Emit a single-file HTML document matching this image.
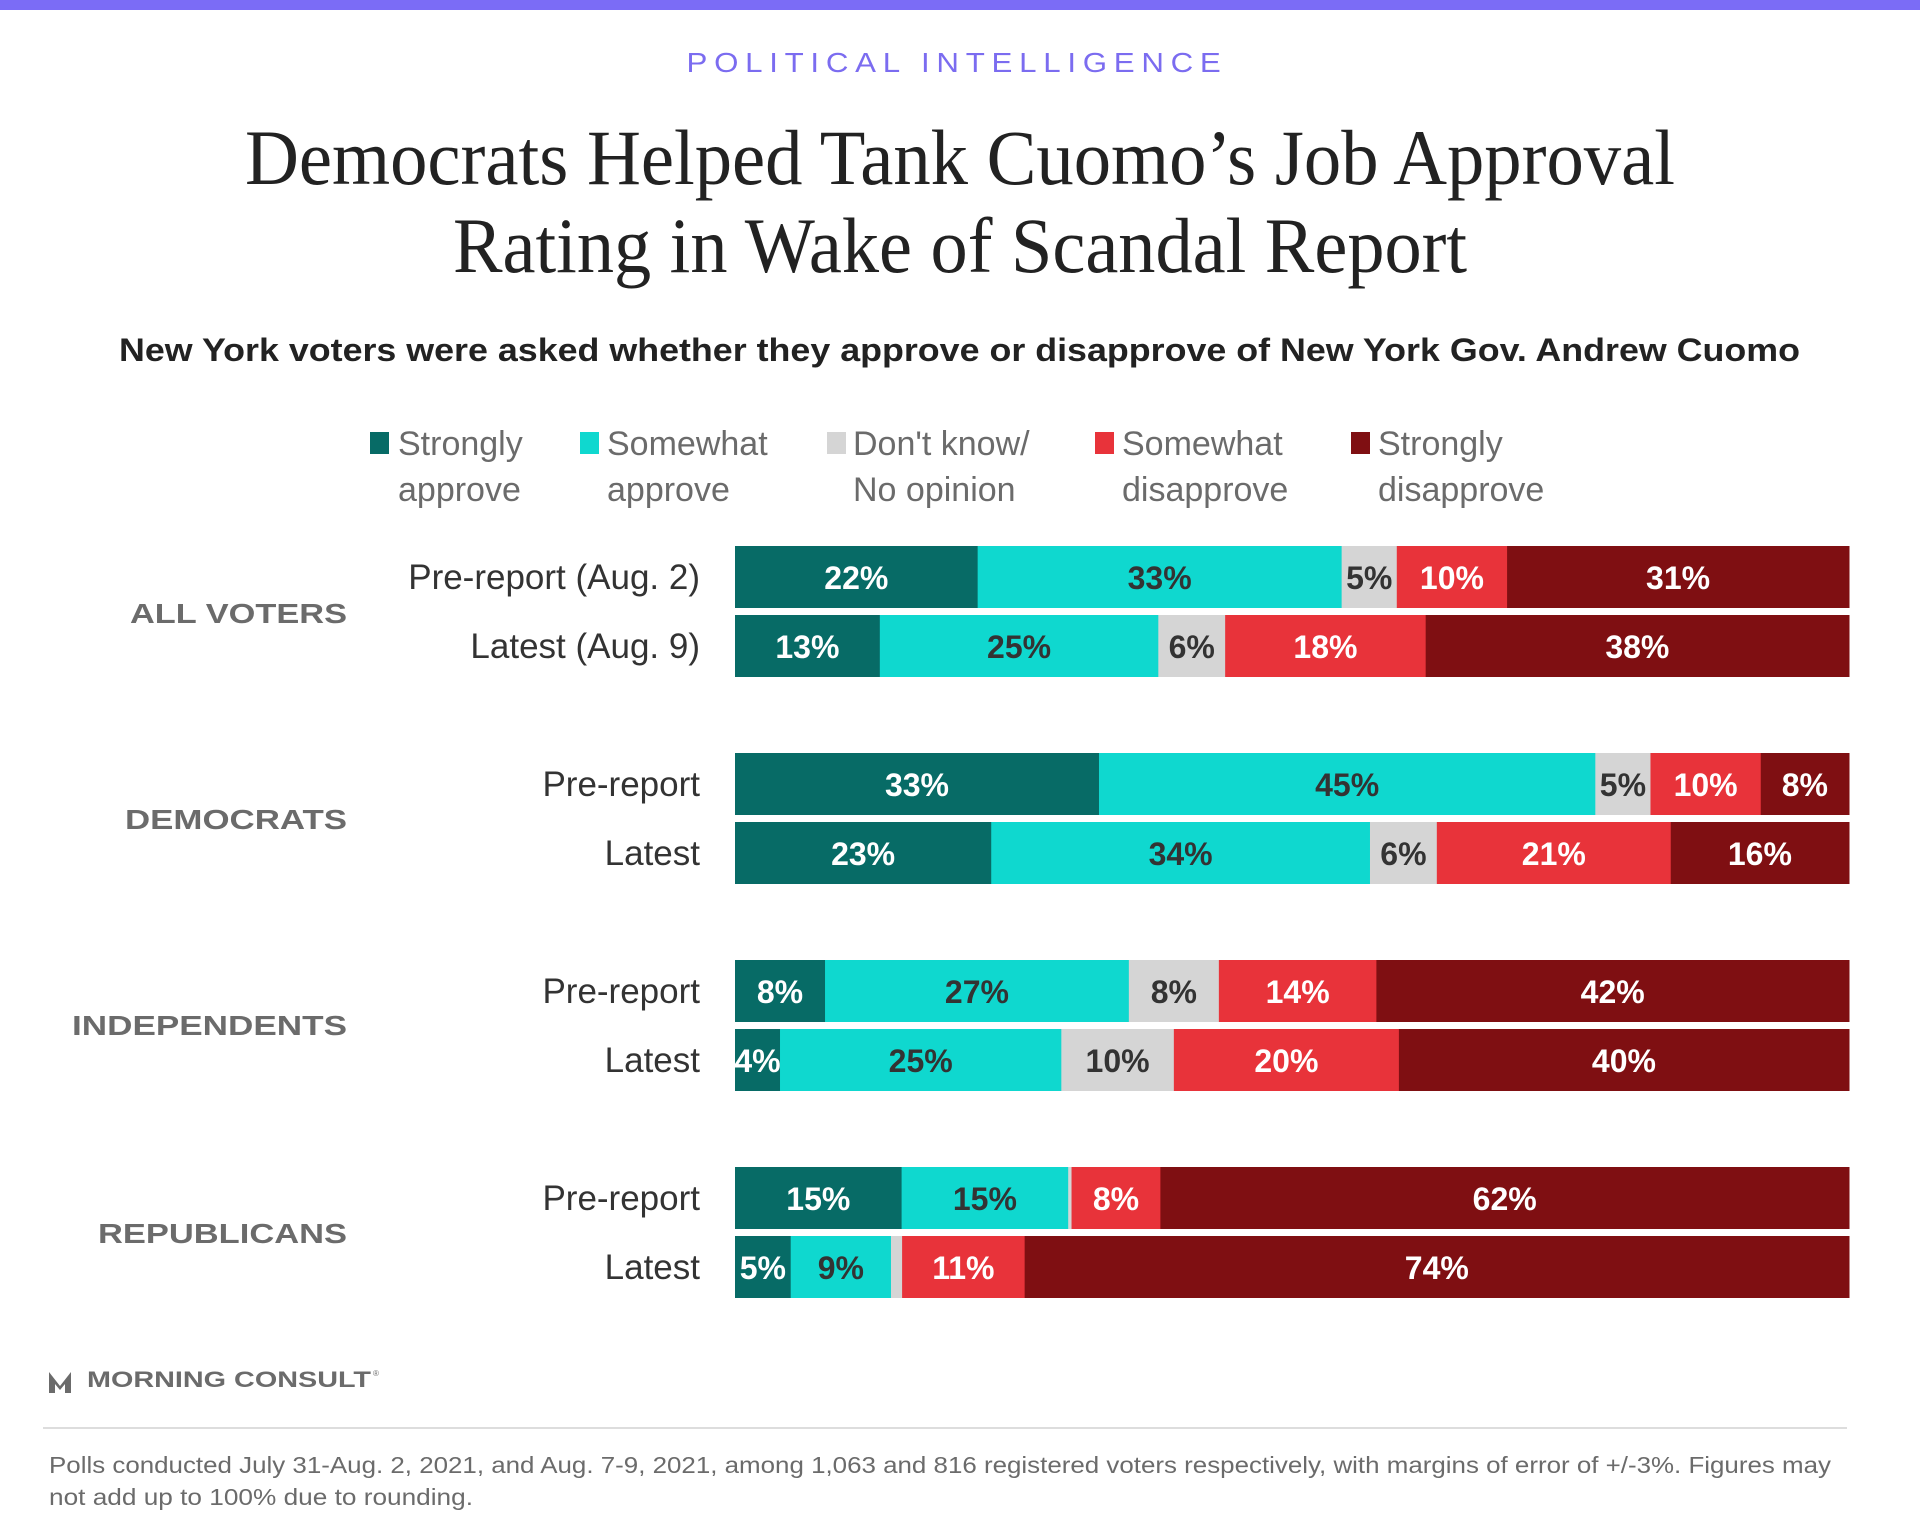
<!DOCTYPE html>
<html><head><meta charset="utf-8"><style>
html,body{margin:0;padding:0;background:#fff;}
svg{display:block;}
</style></head><body>
<svg id="s" width="1920" height="1536" viewBox="0 0 1920 1536" xmlns="http://www.w3.org/2000/svg" font-family="Liberation Sans, sans-serif">
<rect x="0" y="0" width="1920" height="10" fill="#7b6cf6"/>
<text x="957" y="72" text-anchor="middle" font-size="28" fill="#7b6cf0" letter-spacing="6" textLength="541" lengthAdjust="spacingAndGlyphs">POLITICAL INTELLIGENCE</text>
<text x="245" y="184" font-family="Liberation Serif, serif" font-size="78" fill="#222" textLength="1430" lengthAdjust="spacingAndGlyphs">Democrats Helped Tank Cuomo’s Job Approval</text>
<text x="453" y="272" font-family="Liberation Serif, serif" font-size="78" fill="#222" textLength="1014" lengthAdjust="spacingAndGlyphs">Rating in Wake of Scandal Report</text>
<text x="119" y="361" font-size="32" font-weight="bold" fill="#222" textLength="1681" lengthAdjust="spacingAndGlyphs">New York voters were asked whether they approve or disapprove of New York Gov. Andrew Cuomo</text>
<g id="legend" font-size="34" fill="#6b6b6b"></g>
<g id="bars"></g>
<g font-size="28" font-weight="bold" fill="#6b6b6b" lengthAdjust="spacingAndGlyphs">
<text x="130" y="623" textLength="217" lengthAdjust="spacingAndGlyphs">ALL VOTERS</text>
<text x="125" y="829" textLength="222" lengthAdjust="spacingAndGlyphs">DEMOCRATS</text>
<text x="72" y="1035" textLength="275" lengthAdjust="spacingAndGlyphs">INDEPENDENTS</text>
<text x="98" y="1243" textLength="249" lengthAdjust="spacingAndGlyphs">REPUBLICANS</text>
</g>
<path d="M49 1372 L49 1393 L55 1393 L55 1384 L60 1390 L65 1384 L65 1393 L71 1393 L71 1372 L60 1386 Z" fill="#6b6b6b"/>
<text x="87" y="1387" font-size="22" font-weight="bold" fill="#6b6b6b" textLength="284" lengthAdjust="spacingAndGlyphs">MORNING CONSULT</text>
<text x="373" y="1376" font-size="8" fill="#6b6b6b">®</text>
<rect x="43" y="1427" width="1804" height="2" fill="#dddddd"/>
<text x="49" y="1473" font-size="23" fill="#6b6b6b" textLength="1782" lengthAdjust="spacingAndGlyphs">Polls conducted July 31-Aug. 2, 2021, and Aug. 7-9, 2021, among 1,063 and 816 registered voters respectively, with margins of error of +/-3%. Figures may</text>
<text x="49" y="1505" font-size="23" fill="#6b6b6b" textLength="424" lengthAdjust="spacingAndGlyphs">not add up to 100% due to rounding.</text>
</svg>
<script>
var NS="http://www.w3.org/2000/svg";
function el(p,t,a,txt){var e=document.createElementNS(NS,t);for(var k in a)e.setAttribute(k,a[k]);if(txt!=null)e.textContent=txt;p.appendChild(e);return e;}
var cols=["#076b66","#0fd8cf","#d5d5d5","#e8333a","#7f0f12"];
var tcol=["#fff","#333","#333","#fff","#fff"];
var lg=document.getElementById("legend");
var L=[[370,398,"Strongly","approve"],[580,607,"Somewhat","approve"],[827,853,"Don't know/","No opinion"],[1095,1122,"Somewhat","disapprove"],[1351,1378,"Strongly","disapprove"]];
L.forEach(function(l,i){el(lg,"rect",{x:l[0],y:432,width:19,height:22,fill:cols[i]});el(lg,"text",{x:l[1],y:455},l[2]);el(lg,"text",{x:l[1],y:501},l[3]);});
var rows=[
[546,"Pre-report (Aug. 2)",[22,33,5,10,31]],
[615,"Latest (Aug. 9)",[13,25,6,18,38]],
[753,"Pre-report",[33,45,5,10,8]],
[822,"Latest",[23,34,6,21,16]],
[960,"Pre-report",[8,27,8,14,42]],
[1029,"Latest",[4,25,10,20,40]],
[1167,"Pre-report",[15,15,0.3,8,62]],
[1236,"Latest",[5,9,1,11,74]]];
var g=document.getElementById("bars");
var X0=735,W=1114,H=62;
rows.forEach(function(r){
 var y=r[0],v=r[2],s=v.reduce(function(a,b){return a+b;},0),x=X0;
 el(g,"text",{x:700,y:y+H/2+12,"font-size":35,fill:"#333","text-anchor":"end"},r[1]);
 v.forEach(function(p,i){var w=p/s*W;el(g,"rect",{x:x,y:y,width:w+0.5,height:H,fill:cols[i]});
  if(p>=2){el(g,"text",{x:x+w/2,y:y+H/2+12,"font-size":32,"font-weight":"bold",fill:tcol[i],"text-anchor":"middle"},Math.round(p)+"%");}
  x+=w;});
});
</script>
</body></html>
